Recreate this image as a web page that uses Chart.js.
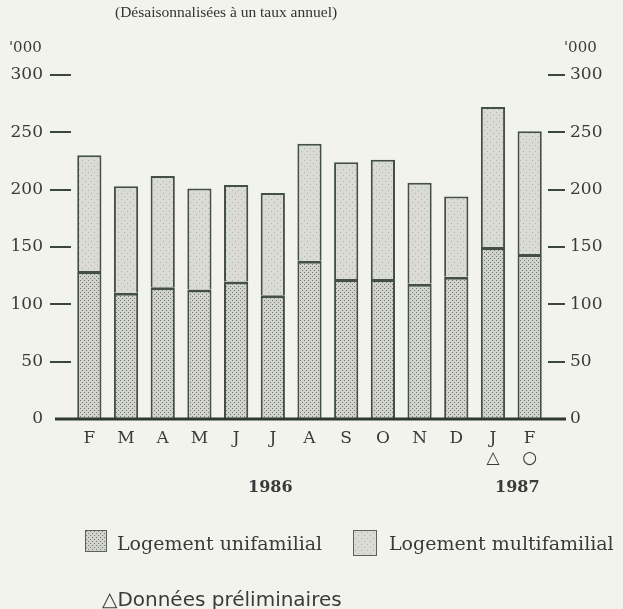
<!DOCTYPE html>
<html>
<head>
<meta charset="utf-8">
<script src="https://cdn.jsdelivr.net/npm/chart.js@4.4.1/dist/chart.umd.min.js"></script>
<style>
  body { margin: 0; background: #f3f3ee; }
  #wrap { position: relative; width: 623px; height: 609px; overflow: hidden; font-family: "DejaVu Serif", serif; color: #3a3a3a; }
  #wrap canvas { position: absolute; left: 0; top: 0; }
  .t { position: absolute; white-space: nowrap; line-height: 1; }
  .sw { position: absolute; border: 1px solid #5a625a; box-sizing: border-box; }
</style>
</head>
<body>
<div id="wrap">
  <canvas id="c" width="623" height="609"></canvas>
  <div class="t" style="left:115px; top:4px; font-family:'Liberation Serif',serif; font-size:15.5px; color:#333;">(Désaisonnalisées à un taux annuel)</div>
  <div class="t" style="left:9px; top:40px; font-size:15px;">'000</div>
  <div class="t" style="left:564px; top:40px; font-size:15px;">'000</div>
  <div class="t" style="left:248px; top:479px; font-size:16px; font-weight:bold;">1986</div>
  <div class="t" style="left:495px; top:479px; font-size:16px; font-weight:bold;">1987</div>
  <div class="sw" id="sw1" style="left:85px; top:530px; width:22px; height:22px;"></div>
  <div class="t" style="left:117px; top:534px; font-size:19px;">Logement unifamilial</div>
  <div class="sw" id="sw2" style="left:353px; top:530px; width:24px; height:26px;"></div>
  <div class="t" style="left:389px; top:534px; font-size:19px;">Logement multifamilial</div>
  <div class="t" style="left:102px; top:589px; font-family:'DejaVu Sans',sans-serif; font-size:20px;">△Données préliminaires</div>
</div>
<script>
// mois, fév. 1986 à fév. 1987
var months = ["F", "M", "A", "M", "J", "J", "A", "S", "O", "N", "D", "J", "F"];
var marks = ["", "", "", "", "", "", "", "", "", "", "", "△", "○"];
// milliers de logements, taux annuel désaisonnalisé
var unifamilial = [129, 110, 115, 113, 120, 108, 138, 122, 122, 118, 124, 150, 144];
var totals = [230, 203, 212, 201, 204, 197, 240, 224, 226, 206, 194, 272, 251];
var multifamilial = totals.map((t, i) => t - unifamilial[i]);
var yTicks = [0, 50, 100, 150, 200, 250, 300];

function dots(base, dot, size, pts) {
    var p = document.createElement("canvas");
    p.width = size; p.height = size;
    var g = p.getContext("2d");
    g.fillStyle = base;
    g.fillRect(0, 0, size, size);
    g.fillStyle = dot;
    pts.forEach(([x, y]) => g.fillRect(x, y, 1, 1));
    return p;
}
var uniTile = dots("#d3d3cd", "#737972", 4, [[0, 0], [2, 2]]);
var multiTile = dots("#dbdbd6", "#adb1ab", 6, [[1, 1], [4, 4]]);
var ctx = document.getElementById("c").getContext("2d");
var uniFill = ctx.createPattern(uniTile, "repeat");
var multiFill = ctx.createPattern(multiTile, "repeat");
document.getElementById("sw1").style.background = "url(" + uniTile.toDataURL() + ")";
document.getElementById("sw2").style.background = "url(" + multiTile.toDataURL() + ")";

var edge = "#445044";
var tickColor = (c) => (c.tick && c.tick.value === 0 ? "rgba(0,0,0,0)" : "#3b463c");

var baseline = {
    id: "baseline",
    afterDatasetsDraw(chart) {
        var y = chart.scales.y.getPixelForValue(0);
        var g = chart.ctx;
        g.save();
        g.strokeStyle = "#2e3a30";
        g.lineWidth = 3;
        g.beginPath();
        g.moveTo(55, y);
        g.lineTo(566, y);
        g.stroke();
        g.restore();
    },
};

function yAxis(pos, w, len, pad) {
    return {
        position: pos,
        stacked: true,
        min: 0,
        max: 300,
        afterBuildTicks: (s) => { s.ticks = yTicks.map((v) => ({ value: v })); },
        afterFit: (s) => { s.width = w; },
        border: { display: false },
        grid: { drawOnChartArea: false, tickLength: len, lineWidth: 2, color: tickColor, tickColor: tickColor },
        ticks: { padding: pad, color: "#3a3a3a", font: { family: "DejaVu Serif", size: 17 } },
    };
}

new Chart(ctx, {
    type: "bar",
    data: {
        labels: months.map((m, i) => (marks[i] ? [m, marks[i]] : m)),
        datasets: [
            {
                label: "Logement unifamilial",
                data: unifamilial,
                backgroundColor: uniFill,
                borderColor: edge,
                borderWidth: { top: 3, left: 2, right: 2, bottom: 0 },
                borderSkipped: false,
                yAxisID: "y",
            },
            {
                label: "Logement multifamilial",
                data: multifamilial,
                backgroundColor: multiFill,
                borderColor: edge,
                borderWidth: { top: 2, left: 2, right: 2, bottom: 0 },
                borderSkipped: false,
                yAxisID: "y",
            },
        ],
    },
    options: {
        responsive: false,
        animation: false,
        devicePixelRatio: 1,
        layout: { padding: { top: 75, left: 0, right: 0, bottom: 0 } },
        categoryPercentage: 1,
        barPercentage: 0.66,
        plugins: { legend: { display: false }, tooltip: { enabled: false } },
        scales: {
            x: {
                stacked: true,
                afterFit: (s) => { s.height = 190; },
                border: { display: false },
                grid: { display: false, drawTicks: false },
                ticks: { padding: 10, color: "#3a3a3a", font: { family: "DejaVu Serif", size: 17, lineHeight: 1.15 }, maxRotation: 0 },
            },
            y: yAxis("left", 71, 21, 7),
            y2: yAxis("right", 75, 17, 5),
        },
    },
    plugins: [baseline],
});
</script>
</body>
</html>
